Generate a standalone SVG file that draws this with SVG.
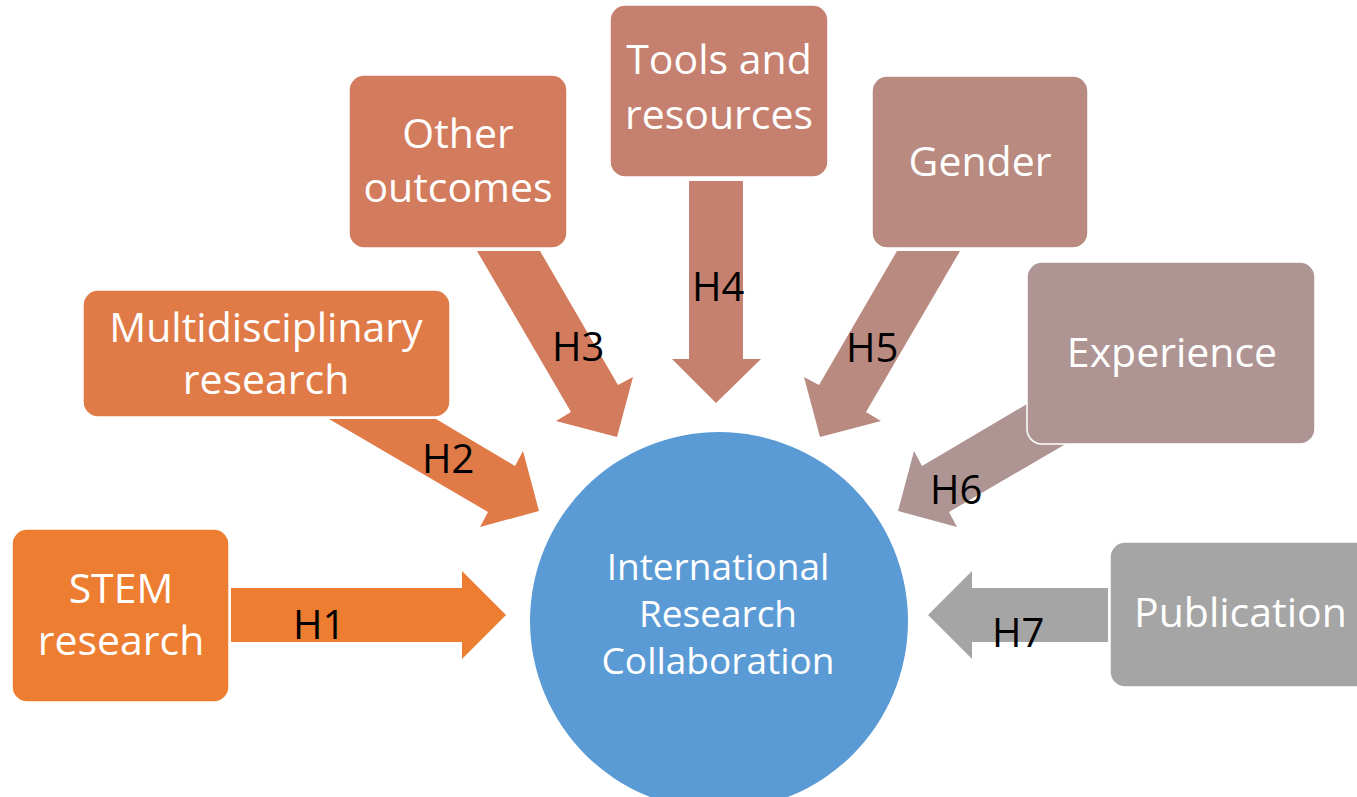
<svg xmlns="http://www.w3.org/2000/svg" width="1357" height="797" viewBox="0 0 1357 797">
<style>
.box{stroke:#ffffff;stroke-width:1.5}
.bt{font-family:"Open Sans","Liberation Sans",sans-serif;font-size:41px;fill:#ffffff;text-anchor:middle}
.ct{font-family:"Open Sans","Liberation Sans",sans-serif;font-size:37px;fill:#ffffff;text-anchor:middle}
.hl{font-family:"Open Sans","Liberation Sans",sans-serif;font-size:40px;fill:#000000}
</style>
<rect width="1357" height="797" fill="#ffffff"/>
<g id="connectors">
  <polygon points="231,588 462,588 462,571 506,615 462,659 462,642 231,642" fill="#ED7D31"/>
  <polygon points="329,419 436,419 515,466 523,451 539,511 480,527 488,512" fill="#E07B48"/>
  <polygon points="477,251 540,251 618,385 633,377 617,437 556,421 571,412" fill="#D37B5D"/>
  <polygon points="689,181 743,181 743,359 761,359 716,403 672,359 689,359" fill="#C5806F"/>
  <polygon points="960,251 897,251 819,385 804,377 820,437 881,421 866,412" fill="#B98A80"/>
  <polygon points="1137,339 922,466 914,451 898,511 957,527 949,512 1165,386" fill="#AE9493"/>
  <polygon points="1108,588 972,588 972,571 928,615 972,659 972,642 1108,642" fill="#A5A5A5"/>
</g>
<g id="center">
  <circle cx="719" cy="621" r="189" fill="#5B9BD5"/>
  <text class="ct" x="718" y="580">International</text>
  <text class="ct" x="718" y="627">Research</text>
  <text class="ct" x="718" y="674">Collaboration</text>
</g>
<g id="stem">
  <rect class="box" x="12" y="529" width="217" height="173" rx="15" fill="#ED7D31"/>
  <text class="bt" x="121" y="603">STEM</text>
  <text class="bt" x="121" y="655">research</text>
</g>
<g id="multi">
  <rect class="box" x="83" y="290" width="367" height="127" rx="15" fill="#E07B48"/>
  <text class="bt" x="266" y="342">Multidisciplinary</text>
  <text class="bt" x="266" y="394">research</text>
</g>
<g id="other">
  <rect class="box" x="349" y="75" width="218" height="173" rx="15" fill="#D37B5D"/>
  <text class="bt" x="458" y="148">Other</text>
  <text class="bt" x="458" y="202">outcomes</text>
</g>
<g id="tools">
  <rect class="box" x="610" y="5" width="218" height="172" rx="15" fill="#C5806F"/>
  <text class="bt" x="719" y="74">Tools and</text>
  <text class="bt" x="719" y="129">resources</text>
</g>
<g id="gender">
  <rect class="box" x="872" y="76" width="216" height="172" rx="15" fill="#B98A80"/>
  <text class="bt" x="980" y="176">Gender</text>
</g>
<g id="experience">
  <rect class="box" x="1027" y="262" width="288" height="182" rx="15" fill="#AE9493"/>
  <text class="bt" x="1172" y="367">Experience</text>
</g>
<g id="publication">
  <rect class="box" x="1110" y="542" width="262" height="145" rx="15" fill="#A5A5A5"/>
  <text class="bt" x="1134" y="627" style="text-anchor:start">Publication</text>
</g>
<g id="labels">
  <text class="hl" x="293" y="639">H1</text>
  <text class="hl" x="422" y="473">H2</text>
  <text class="hl" x="552" y="361">H3</text>
  <text class="hl" x="692" y="301">H4</text>
  <text class="hl" x="846" y="362">H5</text>
  <text class="hl" x="930" y="504">H6</text>
  <text class="hl" x="992" y="647">H7</text>
</g>
</svg>
